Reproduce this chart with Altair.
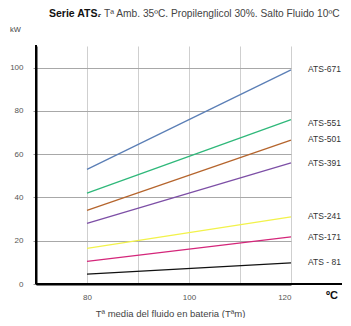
import altair as alt
import pandas as pd

models = ["ATS-671", "ATS-551", "ATS-501", "ATS-391", "ATS-241", "ATS-171", "ATS - 81"]
colors = ["#5b7fb6", "#2fb87a", "#b5652d", "#7d4fa6", "#f2f24a", "#d4267a", "#111111"]
temps = [80, 120]
kw_80 = [53, 42, 34, 28, 16.5, 10.5, 4.6]
kw_120 = [99, 76, 66.5, 56, 31, 21.8, 9.8]
label_kw = [99.5, 74.5, 67, 56, 31.5, 21.5, 10]

y_ticks = list(range(0, 111, 10))
x_ticks = [80, 90, 100, 110, 120]

rows = []
for m, a, b in zip(models, kw_80, kw_120):
    rows.append({"model": m, "temp": temps[0], "kw": a})
    rows.append({"model": m, "temp": temps[1], "kw": b})
df = pd.DataFrame(rows)
lab = pd.DataFrame({"model": models, "temp": [temps[1]] * len(models), "kw": label_kw})
one = pd.DataFrame({"a": [0]})

FONT = "Liberation Sans"

xscale = alt.Scale(domain=[70, 120], nice=False, zero=False)
yscale = alt.Scale(domain=[0, 110], nice=False)

lines = alt.Chart(df).mark_line(strokeWidth=1.3).encode(
    x=alt.X("temp:Q", scale=xscale, axis=alt.Axis(
        values=x_ticks, domain=True, domainColor="#000000", domainWidth=2,
        ticks=False, grid=True, gridColor="#cfcfcf",
        labelExpr="datum.value % 20 == 0 ? datum.label : ''", labelOverlap=False,
        labelFontSize=8, labelColor="#555", labelPadding=9, labelFont=FONT,
        title="Tª media del fluido en bateria (Tªm)", titleFontSize=9.5,
        titleFontWeight="normal", titleColor="#444", titleFont=FONT, titlePadding=7,
        titleX=134, titleAnchor="start", titleAlign="center")),
    y=alt.Y("kw:Q", scale=yscale, axis=alt.Axis(
        values=y_ticks, domain=True, domainColor="#000000", domainWidth=2,
        labelOverlap=False,
        ticks=True, tickSize=3, tickColor="#999", grid=True, gridColor="#a8a8a8",
        gridOpacity=alt.condition("datum.value == 110", alt.value(0), alt.value(1)),
        labelFontSize=8, labelColor="#555", labelPadding=10, labelFont=FONT, title=None)),
    color=alt.Color("model:N", scale=alt.Scale(domain=models, range=colors), legend=None),
)

labels = alt.Chart(lab).mark_text(align="left", baseline="middle", dx=17,
                                  fontSize=8.5, font=FONT, color="#333").encode(
    x=alt.X("temp:Q", scale=xscale), y=alt.Y("kw:Q", scale=yscale), text="model:N")

xaxis_line = alt.Chart(one).mark_rule(color="#000000", strokeWidth=2).encode(
    x=alt.datum(70, scale=xscale), x2=alt.datum(130), y=alt.datum(0, scale=yscale))
yaxis_line = alt.Chart(one).mark_rule(color="#000000", strokeWidth=2).encode(
    x=alt.datum(70, scale=xscale), y=alt.datum(0, scale=yscale), y2=alt.datum(110.5))

t1 = alt.Chart(one).mark_text(align="left", baseline="middle", fontSize=10.5, font=FONT,
                              fontWeight="bold", color="#111").encode(
    x=alt.value(13), y=alt.value(-32), text=alt.value("Serie ATS."))
t2 = alt.Chart(one).mark_text(align="left", baseline="middle", fontSize=10.2, font=FONT,
                              color="#444").encode(
    x=alt.value(62), y=alt.value(-32), text=alt.value("- Tª Amb. 35ºC. Propilenglicol 30%. Salto Fluido 10ºC"))
kw_t = alt.Chart(one).mark_text(align="left", baseline="middle", fontSize=7.5, font=FONT,
                                color="#444").encode(
    x=alt.value(-26), y=alt.value(-16), text=alt.value("kW"))
degc = alt.Chart(one).mark_text(align="left", baseline="middle", fontSize=11, font=FONT,
                                fontWeight="bold", color="#111").encode(
    x=alt.value(290), y=alt.value(250), text=alt.value("ºC"))

chart = alt.layer(lines, labels, xaxis_line, yaxis_line, t1, t2, kw_t, degc).properties(
    width=255, height=238,
    autosize=alt.AutoSizeParams(type="none"),
    padding={"left": 28, "top": 38, "right": 52, "bottom": 34},
).configure_view(stroke=None)

chart.save("out.html", embed_options={"renderer": "svg", "actions": False})
